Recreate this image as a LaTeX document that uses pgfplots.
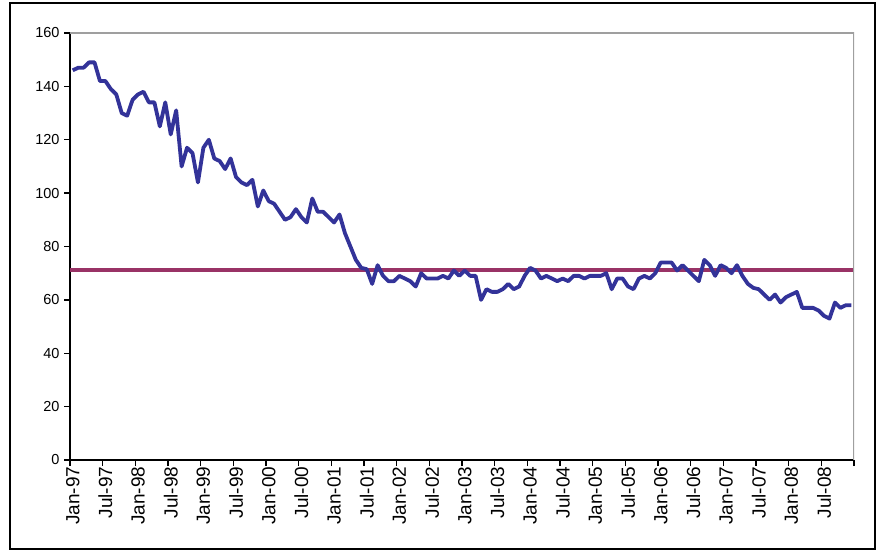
\documentclass[border=0pt]{standalone}
\usepackage{pgfplots}
\pgfplotsset{compat=1.18}
\usepackage{fontspec}
\setmainfont{Liberation Sans}
\definecolor{navyline}{HTML}{333399}
\definecolor{plumline}{HTML}{993366}
\begin{document}
\begin{tikzpicture}[x=1pt,y=1pt]
\useasboundingbox (0,0) rectangle (877,552);
\draw[black, line width=2.2pt] (10,3) rectangle (875,549);
\begin{axis}[
  at={(70pt,92pt)}, anchor=south west,
  scale only axis, width=784pt, height=427pt,
  xmin=0, xmax=144, ymin=0, ymax=160,
  axis x line*=bottom, axis y line*=left,
  axis line style={black, line width=1.6pt, -},
  ytick={0,20,...,160},
  xtick={0,6,...,144}, xticklabels={},
  extra x ticks={0.5,6.5,...,138.5},
  extra x tick labels={Jan-97,Jul-97,Jan-98,Jul-98,Jan-99,Jul-99,Jan-00,Jul-00,Jan-01,Jul-01,Jan-02,Jul-02,Jan-03,Jul-03,Jan-04,Jul-04,Jan-05,Jul-05,Jan-06,Jul-06,Jan-07,Jul-07,Jan-08,Jul-08},
  extra x tick style={major tick length=0pt},
  tick align=outside, major tick length=6pt,
  tick style={black, line width=1.3pt},
  /pgf/number format/assume math mode=true,
  yticklabel style={font=\fontsize{14.5}{16}\selectfont, xshift=-1pt},
  xticklabel style={font=\fontsize{19}{21}\selectfont, rotate=90, anchor=east, xshift=-3pt},
]
\addplot[plumline, line width=4.4pt] coordinates {(0,71.2) (144,71.2)};
\addplot[navyline, line width=3.8pt, line join=round, mark=none] coordinates {
(0.5,146) (1.5,147) (2.5,147) (3.5,149) (4.5,149) (5.5,142) (6.5,142) (7.5,139) (8.5,137) (9.5,130)
(10.5,129) (11.5,135) (12.5,137) (13.5,138) (14.5,134) (15.5,134) (16.5,125) (17.5,134) (18.5,122) (19.5,131)
(20.5,110) (21.5,117) (22.5,115) (23.5,104) (24.5,117) (25.5,120) (26.5,113) (27.5,112) (28.5,109) (29.5,113)
(30.5,106) (31.5,104) (32.5,103) (33.5,105) (34.5,95) (35.5,101) (36.5,97) (37.5,96) (38.5,93) (39.5,90)
(40.5,91) (41.5,94) (42.5,91) (43.5,89) (44.5,98) (45.5,93) (46.5,93) (47.5,91) (48.5,89) (49.5,92)
(50.5,85) (51.5,80) (52.5,75) (53.5,72) (54.5,71.5) (55.5,66) (56.5,73) (57.5,69) (58.5,67) (59.5,67)
(60.5,69) (61.5,68) (62.5,67) (63.5,65) (64.5,70) (65.5,68) (66.5,68) (67.5,68) (68.5,69) (69.5,68)
(70.5,71) (71.5,69) (72.5,71) (73.5,69) (74.5,69) (75.5,60) (76.5,64) (77.5,63) (78.5,63) (79.5,64)
(80.5,66) (81.5,64) (82.5,65) (83.5,69) (84.5,72) (85.5,71) (86.5,68) (87.5,69) (88.5,68) (89.5,67)
(90.5,68) (91.5,67) (92.5,69) (93.5,69) (94.5,68) (95.5,69) (96.5,69) (97.5,69) (98.5,70) (99.5,64)
(100.5,68) (101.5,68) (102.5,65) (103.5,64) (104.5,68) (105.5,69) (106.5,68) (107.5,70) (108.5,74) (109.5,74)
(110.5,74) (111.5,71) (112.5,73) (113.5,71) (114.5,69) (115.5,67) (116.5,75) (117.5,73) (118.5,69) (119.5,73)
(120.5,72) (121.5,70) (122.5,73) (123.5,69) (124.5,66) (125.5,64.5) (126.5,64) (127.5,62) (128.5,60) (129.5,62)
(130.5,59) (131.5,61) (132.5,62) (133.5,63) (134.5,57) (135.5,57) (136.5,57) (137.5,56) (138.5,54) (139.5,53)
(140.5,59) (141.5,57) (142.5,58) (143.5,58)
};
\draw[gray!75, line width=1.4pt] (rel axis cs:0,1) -- (rel axis cs:1,1) -- (rel axis cs:1,0);
\end{axis}
\end{tikzpicture}
\end{document}
